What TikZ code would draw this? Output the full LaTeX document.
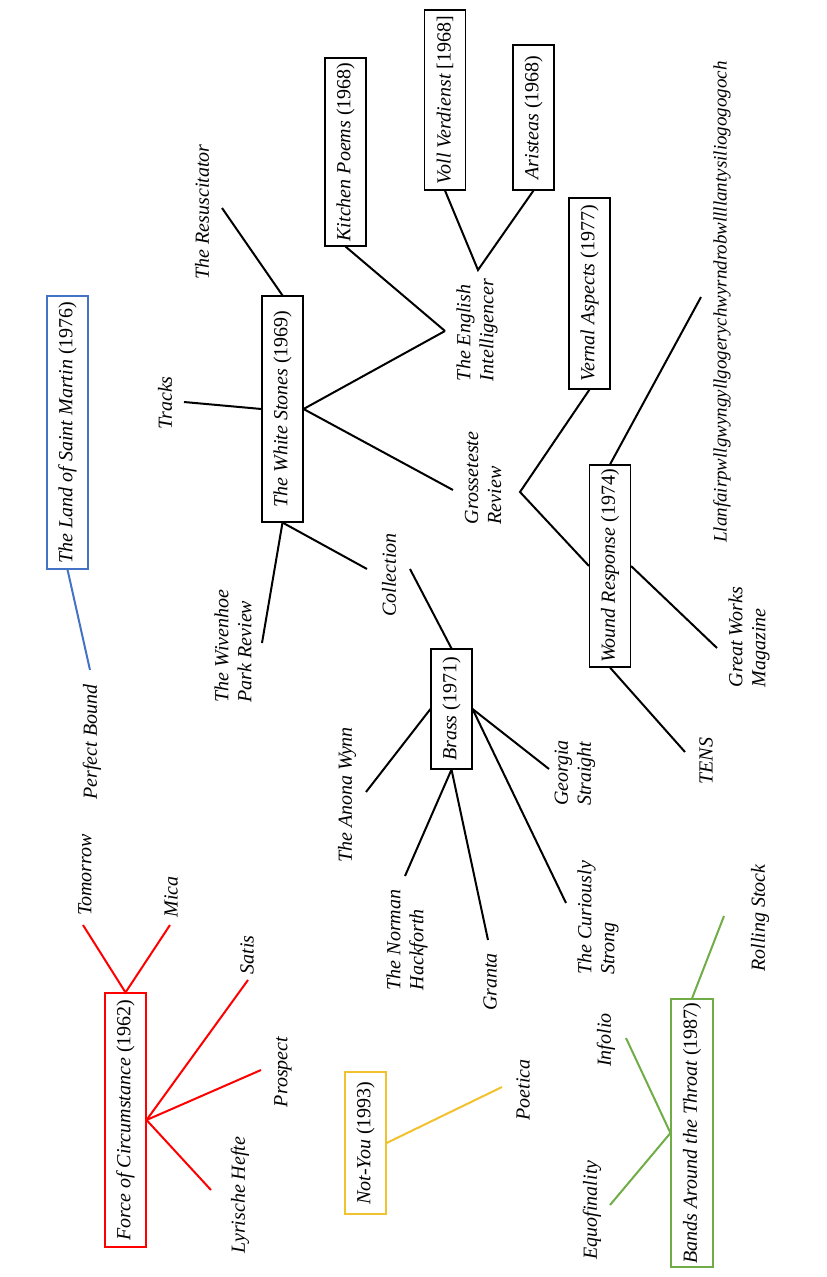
\documentclass[tikz,border=0pt]{standalone}
\usepackage{fontspec}
\setmainfont{Liberation Serif}
\definecolor{cblue}{HTML}{4472C4}
\definecolor{cred}{HTML}{FF0000}
\definecolor{cyellow}{HTML}{F2C12E}
\definecolor{cgreen}{HTML}{70AD47}
\tikzset{
  box/.style={draw, rotate=90, inner sep=0pt, minimum height=41pt, line width=1.1pt,
    font=\fontsize{20}{23}\selectfont},
  lbl/.style={rotate=90, align=left, inner sep=0pt, font=\fontsize{20}{23}\selectfont\itshape},
  conn/.style={line width=2pt},
}
\begin{document}
\begin{tikzpicture}[x=1pt,y=-1pt]
\useasboundingbox[fill=white] (0,0) rectangle (827,1277);

% ---------- boxes ----------
\node[box, draw=cblue, minimum width=273pt] (lsm) at (67.5,432.5) {\textit{The Land of Saint Martin} (1976)};
\node[box, draw=cred, minimum width=254pt] (foc) at (125.5,1120) {\textit{Force of Circumstance} (1962)};
\node[box, draw=cyellow, minimum width=142pt] (ny) at (365.5,1143) {\textit{Not-You} (1993)};
\node[box, draw=cgreen, minimum width=268pt, minimum height=42pt] (bat) at (692,1133) {\textit{Bands Around the Throat} (1987)};
\node[box, minimum width=226pt] (ws) at (282.5,409) {\textit{The White Stones} (1969)};
\node[box, minimum width=188pt] (kp) at (345.5,152) {\textit{Kitchen Poems} (1968)};
\node[box, minimum width=180pt] (vv) at (445,100) {\textit{Voll Verdienst} [1968]};
\node[box, minimum width=145pt] (ar) at (533.5,117.5) {\textit{Aristeas} (1968)};
\node[box, minimum width=191pt] (va) at (589.5,293.5) {\textit{Vernal Aspects} (1977)};
\node[box, minimum width=202pt] (wr) at (610,566) {\textit{Wound Response} (1974)};
\node[box, minimum width=120pt] (br) at (451.5,709) {\textit{Brass} (1971)};

% ---------- labels ----------
\node[lbl] (pb) at (92,742) {Perfect Bound};
\node[lbl] (tom) at (85,875) {Tomorrow};
\node[lbl] (mica) at (171,897) {Mica};
\node[lbl] (satis) at (247,955) {Satis};
\node[lbl] (prosp) at (283,1072) {Prospect};
\node[lbl] (lyr) at (240,1195) {Lyrische Hefte};
\node[lbl] (poet) at (523,1090) {Poetica};
\node[lbl] (rs) at (760,918) {Rolling Stock};
\node[lbl] (inf) at (606,1040) {Infolio};
\node[lbl] (equo) at (592,1210) {Equofinality};
\node[lbl] (res) at (202,212) {The Resuscitator};
\node[lbl] (tracks) at (165,403) {Tracks};
\node[lbl] (ei) at (477,330) {The English\\Intelligencer};
\node[lbl] (gr) at (483,478) {Grosseteste\\Review};
\node[lbl] (coll) at (389,575) {Collection};
\node[lbl] (wiv) at (233,646) {The Wivenhoe\\Park Review};
\node[lbl, font=\fontsize{19}{22}\selectfont\itshape] (llan) at (722,302) {Llanfairpwllgwyngyllgogerychwyrndrobwllllantysiliogogogoch};
\node[lbl] (gw) at (749,637) {Great Works\\Magazine};
\node[lbl] (tens) at (706,761) {TENS};
\node[lbl] (anona) at (347,795) {The Anona Wynn};
\node[lbl] (nh) at (407,940) {The Norman\\Hackforth};
\node[lbl] (granta) at (490,982) {Granta};
\node[lbl] (gs) at (575,773) {Georgia\\Straight};
\node[lbl] (cs) at (598,918) {The Curiously\\Strong};

% ---------- connector ends ----------
\coordinate (pbE) at (90,670);
\coordinate (tomE) at (83,925);
\coordinate (micaE) at (170,925);
\coordinate (satisE) at (248,980);
\coordinate (prospE) at (261,1070);
\coordinate (lyrE) at (211,1190);
\coordinate (poetE) at (502,1087);
\coordinate (rsE) at (724,916);
\coordinate (infE) at (626,1038);
\coordinate (equoE) at (610,1205);
\coordinate (resE) at (222,208);
\coordinate (tracksE) at (184,402);
\coordinate (eiL) at (445,331);
\coordinate (eiR) at (478,270);
\coordinate (grL) at (453,490);
\coordinate (grR) at (520,492);
\coordinate (collL) at (367,569);
\coordinate (collR) at (410,569);
\coordinate (wivE) at (262,643);
\coordinate (llanE) at (701,297);
\coordinate (gwE) at (717,648);
\coordinate (tensE) at (685,752);
\coordinate (anonaE) at (366,792);
\coordinate (nhE) at (405,876);
\coordinate (grantaE) at (488,940);
\coordinate (gsE) at (549,769);
\coordinate (csE) at (566,903);

% ---------- connectors ----------
\draw[conn, cblue] (lsm.west) -- (pbE);
\draw[conn, cred] (tomE) -- (foc.east) -- (micaE);
\draw[conn, cred] (foc.south) -- (satisE);
\draw[conn, cred] (foc.south) -- (prospE);
\draw[conn, cred] (foc.south) -- (lyrE);
\draw[conn, cyellow] (ny.south) -- (poetE);
\draw[conn, cgreen] (bat.east) -- (rsE);
\draw[conn, cgreen] (infE) -- (bat.north) -- (equoE);

\draw[conn] (ws.east) -- (resE);
\draw[conn] (ws.north) -- (tracksE);
\draw[conn] (ws.south) -- (eiL);
\draw[conn] (ws.south) -- (grL);
\draw[conn] (ws.west) -- (collL);
\draw[conn] (ws.west) -- (wivE);
\draw[conn] (kp.west) -- (eiL);
\draw[conn] (vv.west) -- (eiR) -- (ar.west);
\draw[conn] (va.west) -- (grR) -- (wr.north);
\draw[conn] (wr.east) -- (llanE);
\draw[conn] (wr.south) -- (gwE);
\draw[conn] (wr.west) -- (tensE);
\draw[conn] (collR) -- (br.east);
\draw[conn] (br.north) -- (anonaE);
\draw[conn] (br.west) -- (nhE);
\draw[conn] (br.west) -- (grantaE);
\draw[conn] (br.south) -- (gsE);
\draw[conn] (br.south) -- (csE);
\end{tikzpicture}
\end{document}
